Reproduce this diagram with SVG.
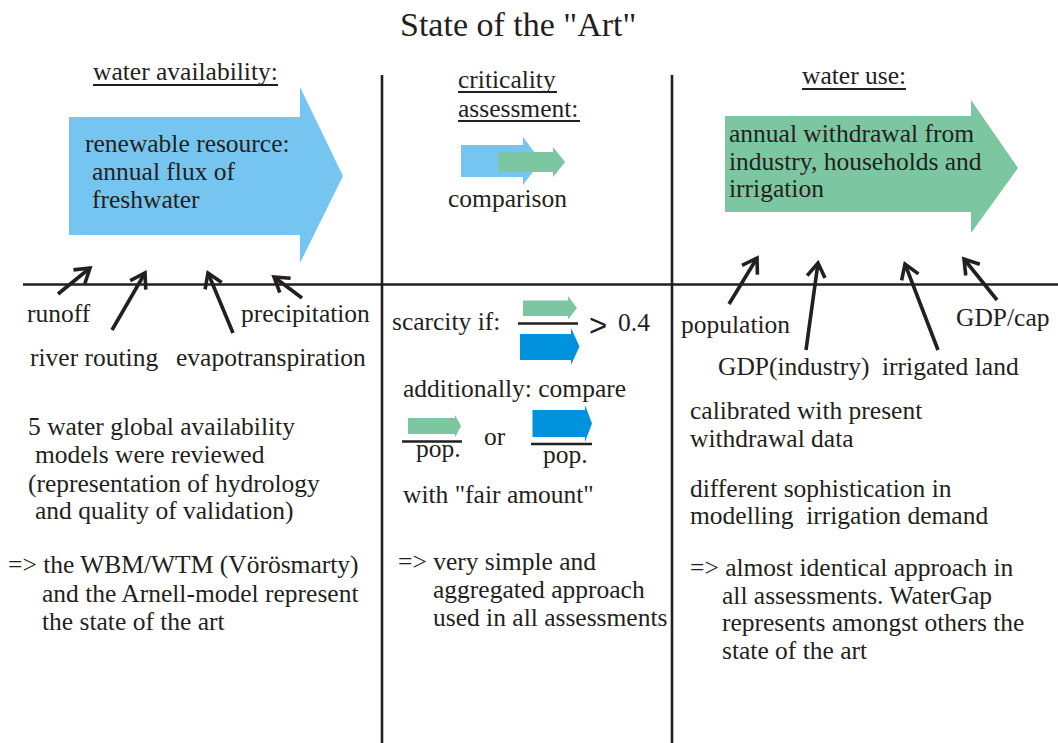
<svg xmlns="http://www.w3.org/2000/svg" width="1058" height="743" viewBox="0 0 1058 743">
<style>
text{font-family:"Liberation Serif","Times New Roman",serif;font-size:25.5px;fill:#231f20}
.title{font-size:34px}
.rule{stroke:#231f20;stroke-width:2.6;fill:none}
.ul{stroke:#231f20;stroke-width:1.8}
.conn{stroke:#231f20;stroke-width:3.6;fill:none;marker-end:url(#head)}
.lb{fill:#76c5f0}
.gr{fill:#7cc6a1}
.db{fill:#0092dd}
.frac{stroke:#231f20;stroke-width:2.6}
</style>
<defs>
<marker id="head" viewBox="0 0 18 22" refX="15.5" refY="11" markerWidth="18" markerHeight="22" markerUnits="userSpaceOnUse" orient="auto" overflow="visible">
<path d="M1.5,2 L15.5,11 L1.5,20" fill="none" stroke="#231f20" stroke-width="3.6"/>
</marker>
</defs>
<rect width="1058" height="743" fill="#ffffff"/>
<text class="title" x="400" y="36">State of the "Art"</text>
<g id="frame">
<line class="rule" x1="23" y1="284.5" x2="1058" y2="284.5"/>
<line class="rule" x1="382" y1="75" x2="382" y2="743"/>
<line class="rule" x1="672" y1="75" x2="672" y2="743"/>
</g>
<g id="water-availability">
<text x="93" y="80">water availability:</text>
<line class="ul" x1="93" y1="85" x2="278" y2="85"/>
<polygon class="lb" points="69,117 300,117 300,87 343,176 300,263 300,235 69,235"/>
<text x="85" y="152">renewable resource:</text>
<text x="92" y="180">annual flux of</text>
<text x="92" y="208">freshwater</text>
</g>
<g id="criticality">
<text x="458" y="88">criticality</text>
<line class="ul" x1="458" y1="92" x2="557" y2="92"/>
<text x="458" y="117">assessment:</text>
<line class="ul" x1="458" y1="121" x2="580" y2="121"/>
<polygon class="lb" points="461,145 523,145 523,137 541,161 523,185 523,177 461,177"/>
<polygon class="gr" points="498,152 553,152 553,147 565,162 553,177 553,172 498,172"/>
<text x="448" y="207">comparison</text>
</g>
<g id="water-use">
<text x="802" y="84">water use:</text>
<line class="ul" x1="802" y1="89" x2="906" y2="89"/>
<polygon class="gr" points="725,116 971,116 971,100 1018,168 971,233 971,212 725,212"/>
<text x="729" y="142">annual withdrawal from</text>
<text x="729" y="170">industry, households and</text>
<text x="729" y="197">irrigation</text>
</g>
<g id="connectors">
<line class="conn" x1="58" y1="294" x2="90" y2="268"/>
<line class="conn" x1="112" y1="330" x2="145" y2="273"/>
<line class="conn" x1="233" y1="333" x2="208" y2="273"/>
<line class="conn" x1="302" y1="298" x2="274" y2="277"/>
<line class="conn" x1="729" y1="304" x2="757" y2="258"/>
<line class="conn" x1="806" y1="350" x2="818" y2="263"/>
<line class="conn" x1="938" y1="350" x2="905" y2="264"/>
<line class="conn" x1="997" y1="300" x2="964" y2="259"/>
</g>
<g id="availability-inputs">
<text x="27" y="322">runoff</text>
<text x="30" y="366">river routing</text>
<text x="241" y="322">precipitation</text>
<text x="176" y="366">evapotranspiration</text>
</g>
<g id="use-inputs">
<text x="681" y="333">population</text>
<text x="718" y="375">GDP(industry)</text>
<text x="882" y="375">irrigated land</text>
<text x="956" y="326">GDP/cap</text>
</g>
<g id="scarcity">
<text x="392" y="330">scarcity if:</text>
<polygon class="gr" points="523,300.5 568,300.5 568,296 577,308 568,319.5 568,316 523,316"/>
<line class="frac" x1="518" y1="323.5" x2="578" y2="323.5"/>
<polygon class="db" points="520,334 571,334 571,328 579.5,346.5 571,365 571,360 520,360"/>
<text x="589" y="336" style="font-family:'Liberation Sans',Arial,sans-serif;font-size:31px">&gt;</text>
<text x="618" y="331">0.4</text>
<text x="403" y="397">additionally: compare</text>
<polygon class="gr" points="408,418 455,418 455,415 461,426 455,437.5 455,434 408,434"/>
<line class="frac" x1="402" y1="441.5" x2="462" y2="441.5"/>
<text x="416" y="457">pop.</text>
<text x="484" y="445">or</text>
<polygon class="db" points="532.5,410 585,410 585,405 592,423.5 585,442 585,437 532.5,437"/>
<line class="frac" x1="531" y1="444" x2="592" y2="444"/>
<text x="543" y="463">pop.</text>
<text x="403" y="503">with "fair amount"</text>
</g>
<g id="left-notes">
<text x="28" y="435">5 water global availability</text>
<text x="35" y="463">models were reviewed</text>
<text x="28" y="492">(representation of hydrology</text>
<text x="35" y="519">and quality of validation)</text>
<text x="8" y="573">=&gt; the WBM/WTM (Vörösmarty)</text>
<text x="42" y="602">and the Arnell-model represent</text>
<text x="42" y="630">the state of the art</text>
</g>
<g id="middle-notes">
<text x="398" y="570">=&gt; very simple and</text>
<text x="433" y="598">aggregated approach</text>
<text x="433" y="626">used in all assessments</text>
</g>
<g id="right-notes">
<text x="690" y="419">calibrated with present</text>
<text x="690" y="447">withdrawal data</text>
<text x="690" y="497">different sophistication in</text>
<text x="690" y="524" xml:space="preserve">modelling  irrigation demand</text>
<text x="690" y="576">=&gt; almost identical approach in</text>
<text x="722" y="604">all assessments. WaterGap</text>
<text x="722" y="631">represents amongst others the</text>
<text x="722" y="659">state of the art</text>
</g>
</svg>
